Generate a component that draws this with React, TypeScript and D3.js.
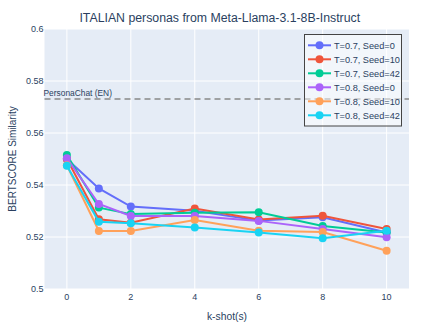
import React from "react";
import * as d3 from "d3";

const kShots = [0, 1, 2, 4, 6, 8, 10];
const seriesNames = [
  "T=0.7, Seed=0",
  "T=0.7, Seed=10",
  "T=0.7, Seed=42",
  "T=0.8, Seed=0",
  "T=0.8, Seed=10",
  "T=0.8, Seed=42",
];
const t07s0 = [0.5500, 0.5387, 0.5317, 0.5301, 0.5263, 0.5276, 0.5217];
const t07s10 = [0.5500, 0.5268, 0.5255, 0.5310, 0.5267, 0.5282, 0.5231];
const t07s42 = [0.5515, 0.5313, 0.5288, 0.5293, 0.5295, 0.5242, 0.5217];
const t08s0 = [0.5503, 0.5327, 0.5281, 0.5281, 0.5262, 0.5231, 0.5199];
const t08s10 = [0.5476, 0.5223, 0.5223, 0.5265, 0.5224, 0.5219, 0.5147];
const t08s42 = [0.5474, 0.5259, 0.5253, 0.5237, 0.5217, 0.5195, 0.5224];
const seriesValues = [t07s0, t07s10, t07s42, t08s0, t08s10, t08s42];
const colors = ["#636efa", "#EF553B", "#00cc96", "#ab63fa", "#FFA15A", "#19d3f3"];
const xTicks = [0, 2, 4, 6, 8, 10];
const yTicks = [0.5, 0.52, 0.54, 0.56, 0.58, 0.6];
const refValue = 0.5731;
const refLabel = "PersonaChat (EN)";

const W = 439, H = 329;
const M = { left: 44.5, right: 409, top: 29, bottom: 289 };
const FONT = "'Liberation Sans', Arial, sans-serif";
const TXT = "#2a3f5f";

export default function App() {
  const x = d3.scaleLinear().domain([-0.7, 10.7]).range([M.left, M.right]);
  const y = d3.scaleLinear().domain([0.5, 0.6]).range([M.bottom, M.top]);
  const line = d3.line<number>().x((_, i) => x(kShots[i])).y((d) => y(d));
  const lx = 308, ly0 = 45.3, ldy = 14;
  return (
    <svg width={W} height={H} style={{ position: "absolute", left: 0, top: 0 }}>
      <rect width={W} height={H} fill="#fff" />
      <rect x={M.left} y={M.top} width={M.right - M.left} height={M.bottom - M.top} fill="#E5ECF6" />
      {xTicks.map((t) => (
        <line key={"gx" + t} x1={x(t)} x2={x(t)} y1={M.top} y2={M.bottom} stroke="#fff" strokeWidth={1} />
      ))}
      {yTicks.map((t) => (
        <line key={"gy" + t} x1={M.left} x2={M.right} y1={y(t)} y2={y(t)} stroke="#fff" strokeWidth={1} />
      ))}
      {yTicks.map((t) => (
        <text key={"ty" + t} x={M.left - 1} y={y(t)} dy="0.35em" textAnchor="end" fontSize={9} fontFamily={FONT} fill={TXT}>
          {d3.format("")(+t.toFixed(2))}
        </text>
      ))}
      {xTicks.map((t) => (
        <text key={"tx" + t} x={x(t)} y={M.bottom + 8} dy="0.35em" textAnchor="middle" fontSize={9} fontFamily={FONT} fill={TXT}>
          {t}
        </text>
      ))}
      <line x1={M.left} x2={M.right} y1={y(refValue)} y2={y(refValue)} stroke="#888" strokeWidth={1.5} strokeDasharray="6,4" />
      <text x={M.left - 1} y={y(refValue) - 3} fontSize={8.4} fontFamily={FONT} fill={TXT}>{refLabel}</text>
      {seriesValues.map((vals, si) => (
        <g key={"s" + si}>
          <path d={line(vals) || ""} fill="none" stroke={colors[si]} strokeWidth={2} />
          {vals.map((v, i) => (
            <circle key={i} cx={x(kShots[i])} cy={y(v)} r={4} fill={colors[si]} />
          ))}
        </g>
      ))}
      <rect x={304.5} y={34.5} width={97} height={91.5} fill="rgba(255,255,255,0.5)" stroke="#444" strokeWidth={1} />
      {seriesNames.map((n, i) => (
        <g key={"l" + i}>
          <line x1={lx} x2={lx + 23} y1={ly0 + i * ldy} y2={ly0 + i * ldy} stroke={colors[i]} strokeWidth={2} />
          <circle cx={lx + 11.5} cy={ly0 + i * ldy} r={4} fill={colors[i]} />
          <text x={lx + 26} y={ly0 + i * ldy} dy="0.35em" fontSize={9.2} fontFamily={FONT} fill={TXT}>{n}</text>
        </g>
      ))}
      <text x={(M.left + M.right) / 2 - 7} y={22} textAnchor="middle" fontSize={12.3} fontFamily={FONT} fill={TXT}>
        ITALIAN personas from Meta-Llama-3.1-8B-Instruct
      </text>
      <text x={227} y={320} textAnchor="middle" fontSize={10.3} fontFamily={FONT} fill={TXT}>k-shot(s)</text>
      <text transform={`translate(15.5,${(M.top + M.bottom) / 2}) rotate(-90)`} textAnchor="middle" fontSize={10} fontFamily={FONT} fill={TXT}>
        BERTSCORE Similarity
      </text>
    </svg>
  );
}
